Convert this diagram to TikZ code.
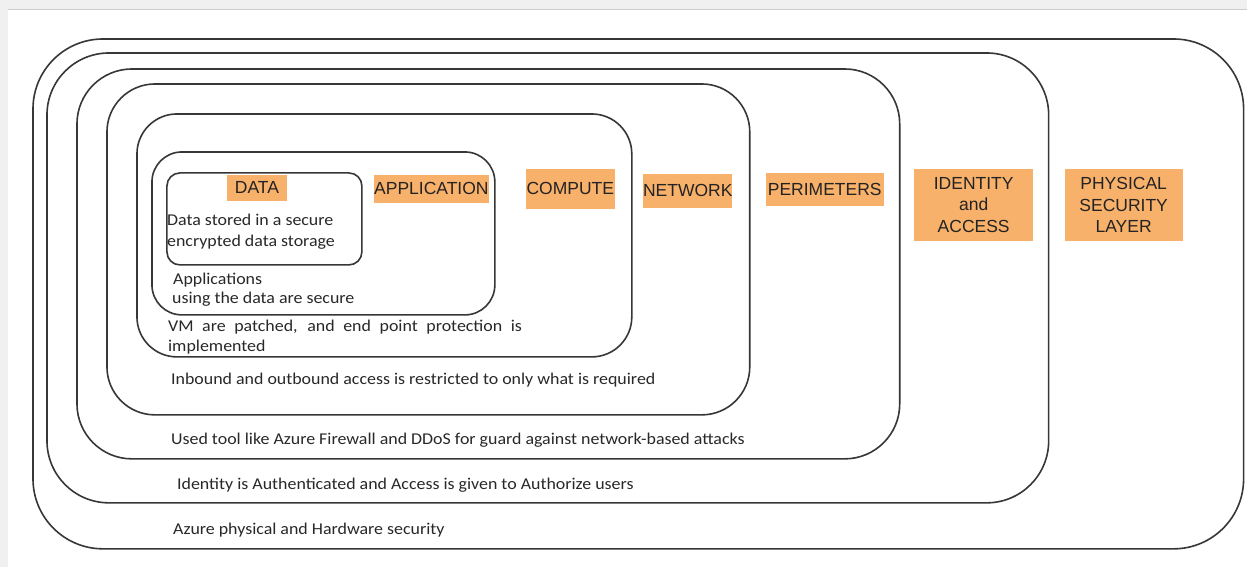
\documentclass[tikz,border=0pt]{standalone}
\usepackage{fontspec}
\setmainfont[FakeStretch=1.085]{Carlito}
\newfontfamily\labelfont{Liberation Sans}
\definecolor{pagegray}{RGB}{240,240,240}
\definecolor{edgegray}{RGB}{205,205,205}
\definecolor{linegray}{RGB}{55,55,55}
\definecolor{tagorange}{RGB}{248,177,106}
\definecolor{tagtext}{RGB}{35,35,35}
\definecolor{bodytext}{RGB}{40,40,40}
\begin{document}
\begin{tikzpicture}[x=1pt,y=-1pt,
  layer/.style={draw=linegray, line width=1.6pt, inner sep=0pt, outer sep=0pt},
  tag/.style={fill=tagorange, text=tagtext, inner sep=0pt, align=center,
    font=\labelfont\fontsize{17.5}{21.5}\selectfont},
  desc/.style={anchor=base west, inner sep=0pt, text=bodytext,
    font=\fontsize{16.5}{21}\selectfont, align=left}]
% page background
\fill[pagegray] (0,0) rectangle (1247,567);
\fill[white] (8,9) rectangle (1247,567);
\draw[edgegray, line width=0.8pt] (8,9) -- (1247,9);
\useasboundingbox (0,0) rectangle (1247,567);
% nested layers
\node[layer, rounded corners=70pt, minimum width=1211pt, minimum height=510pt] (phys) at (638.5,294) {};
\node[layer, rounded corners=62pt, minimum width=1002pt, minimum height=450pt] (ident) at (548,278) {};
\node[layer, rounded corners=55pt, minimum width=823pt, minimum height=390pt] (perim) at (488.5,264) {};
\node[layer, rounded corners=48pt, minimum width=643pt, minimum height=331pt] (netw) at (428.5,249.5) {};
\node[layer, rounded corners=40pt, minimum width=495pt, minimum height=243pt] (comp) at (384.5,235.5) {};
\node[layer, rounded corners=30pt, minimum width=343pt, minimum height=163pt] (app) at (323.5,233.5) {};
\node[layer, rounded corners=13pt, minimum width=195pt, minimum height=92pt] (data) at (264.5,219) {};
% layer titles
\node[tag, minimum width=60pt, minimum height=26pt] (tdata) at (257,188) {DATA};
\node[tag, minimum width=113pt, minimum height=28pt] (tapp) at (431.5,189) {APPLICATION};
\node[tag, minimum width=89pt, minimum height=40pt] (tcomp) at (570.5,189) {COMPUTE};
\node[tag, minimum width=84pt, minimum height=34pt] (tnet) at (688,191) {NETWORK};
\node[tag, minimum width=118pt, minimum height=33pt] (tper) at (825,189.5) {PERIMETERS};
\node[tag, minimum width=119pt, minimum height=72pt] (tid) at (974,205) {IDENTITY\\and\\ACCESS};
\node[tag, minimum width=118pt, minimum height=72pt] (tphys) at (1124,205) {PHYSICAL\\SECURITY\\LAYER};
% descriptions
\node[desc] (ddata1) at (167,225.5) {Data stored in a secure};
\node[desc] (ddata2) at (167,247) {encrypted data storage};
\node[desc] (dapp1) at (173,285) {Applications};
\node[desc] (dapp2) at (172,304) {using the data are secure};
\node[desc] (dcomp1) at (168,331.5) {\makebox[354pt][s]{VM are patched, and end point protection is}};
\node[desc] (dcomp2) at (168,352) {implemented};
\node[desc] (dnet) at (171,385) {Inbound and outbound access is restricted to only what is required};
\node[desc] (dper) at (171,445) {Used tool like Azure Firewall and DDoS for guard against network-based attacks};
\node[desc] (did) at (177,490) {Identity is Authenticated and Access is given to Authorize users};
\node[desc] (dphys) at (173,535) {Azure physical and Hardware security};
\end{tikzpicture}
\end{document}
